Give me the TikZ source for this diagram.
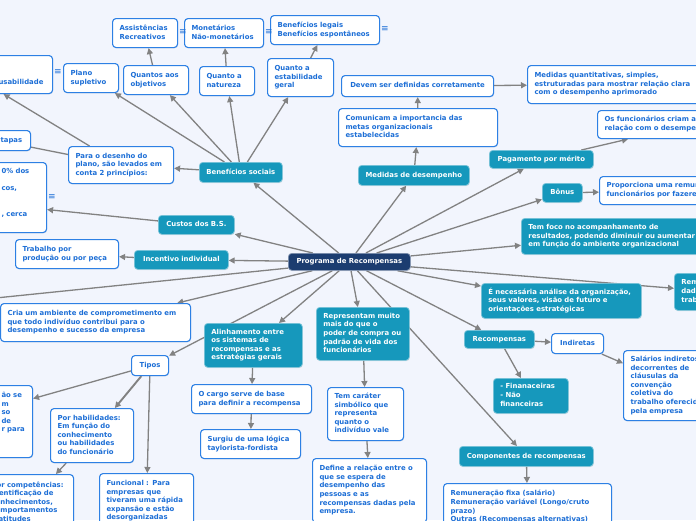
\documentclass[tikz,border=0pt]{standalone}
\usepackage{fontspec}
\setmainfont{DejaVu Sans}
\usetikzlibrary{arrows.meta,shadows}
\definecolor{bgc}{RGB}{242,245,253}
\definecolor{tealc}{RGB}{22,152,188}
\definecolor{navyc}{RGB}{28,61,112}
\definecolor{nblue}{RGB}{45,128,228}
\definecolor{tblue}{RGB}{28,110,214}
\definecolor{linec}{RGB}{130,130,130}
\pgfdeclarelayer{back}\pgfdeclarelayer{edges}\pgfsetlayers{back,edges,main}
% left-aligned box: style, name, x1, y1, x2, y2 (pixels, y down), text
\newcommand\mnode[7]{%
\pgfmathsetmacro\mw{(#5)-(#3)}%
\pgfmathsetmacro\mh{(#6)-(#4)}%
\pgfmathsetmacro\mt{(#5)-(#3)-14}%
\node[#1,anchor=north west,minimum width=\mw pt,minimum height=\mh pt,text width=\mt pt] (#2) at (#3pt,-#4pt) {\makebox[\linewidth][l]{\begin{tabular}{@{}l@{}}#7\end{tabular}}};}
\newcommand\cnode[7]{%
\pgfmathsetmacro\mw{(#5)-(#3)}%
\pgfmathsetmacro\mh{(#6)-(#4)}%
\pgfmathsetmacro\mt{(#5)-(#3)-14}%
\node[#1,anchor=north west,minimum width=\mw pt,minimum height=\mh pt,text width=\mt pt] (#2) at (#3pt,-#4pt) {\makebox[\linewidth][c]{\begin{tabular}{@{}c@{}}#7\end{tabular}}};}
\tikzset{
 base/.style={rounded corners=3.5pt, inner xsep=7pt, inner ysep=0pt,
   font=\fontsize{6.9}{8.6}\selectfont\bfseries,
   drop shadow={shadow xshift=0.5pt,shadow yshift=-0.8pt,opacity=0.18}},
 wb/.style={base, fill=white, draw=nblue, line width=1.1pt, text=tblue},
 tb/.style={base, fill=tealc, draw=tealc!55!white, line width=0.7pt, text=white},
 cb/.style={base, fill=navyc, draw=navyc!55!white, line width=0.7pt, text=white},
 conn/.style={draw=linec, line width=1.3pt, -{Triangle[length=6pt,width=6pt]}},
 note/.style={text=tblue, font=\fontsize{9}{9}\selectfont, inner sep=0pt}
}
\begin{document}
\begin{tikzpicture}
\useasboundingbox (0,0) rectangle (696pt,-520pt);
\begin{pgfonlayer}{back}
\fill[bgc] (0,0) rectangle (696pt,-520pt);
\end{pgfonlayer}
% central
\cnode{cb}{prog}{288}{253}{410}{270}{Programa de Recompensas}
% benefits branch
\mnode{wb}{assist}{112}{18}{177}{47}{Assistências\\Recreativos}
\mnode{wb}{monet}{184}{18}{263}{47}{Monetários\\Não-monetários}
\mnode{wb}{legais}{270}{15}{379}{44}{Benefícios legais\\Benefícios espontâneos}
\mnode{wb}{resp}{-9}{55}{52}{93}{\mbox{}\\\mbox{}\\usabilidade}
\mnode{wb}{plano}{63}{63}{118}{92}{Plano\\supletivo}
\mnode{wb}{objet}{123}{65}{188}{94}{Quantos aos\\objetivos}
\mnode{wb}{natur}{199}{66}{254}{95}{Quanto a\\natureza}
\mnode{wb}{estab}{267}{58}{333}{96}{Quanto a\\estabilidade\\geral}
\mnode{wb}{para}{68}{146}{173}{183}{Para o desenho do\\plano, são levados em\\conta 2 princípios:}
\mnode{wb}{etapas}{-7}{130}{30}{150}{tapas}
\cnode{tb}{bsoc}{199}{162}{282}{182}{Benefícios sociais}
\mnode{wb}{cost}{-6}{162}{46}{232}{0\% dos\\\mbox{}\\cos,\\\mbox{}\\\mbox{}\\, cerca\\\mbox{}}
\cnode{tb}{custos}{158}{215}{234}{234}{Custos dos B.S.}
\mnode{wb}{trab}{15}{239}{118}{268}{Trabalho por\\produção ou por peça}
\cnode{tb}{incent}{134}{250}{228}{269}{Incentivo individual}
\mnode{wb}{cria}{0}{303}{190}{341}{Cria um ambiente de comprometimento em\\que todo indivíduo contribui para o\\desempenho e sucesso da empresa}
% performance branch
\cnode{tb}{medd}{358}{165}{469}{185}{Medidas de desempenho}
\mnode{wb}{comun}{338}{108}{497}{146}{Comunicam a importancia das\\metas organizacionais\\estabelecidas}
\cnode{wb}{devem}{341}{75}{493}{96}{Devem ser definidas corretamente}
\mnode{wb}{mquant}{527}{65}{705}{103}{Medidas quantitativas, simples,\\estruturadas para mostrar relação clara\\com o desempenho aprimorado}
\mnode{wb}{func}{597}{110}{740}{138}{Os funcionários criam a\\relação com o desempenho}
\cnode{tb}{pag}{489}{150}{593}{168}{Pagamento por mérito}
\cnode{tb}{bonus}{542}{183}{582}{202}{Bônus}
\mnode{wb}{prop}{599}{176}{760}{204}{Proporciona uma remuneração\\funcionários por fazerem}
\mnode{tb}{foco}{521}{218}{705}{254}{Tem foco no acompanhamento de\\resultados, podendo diminuir ou aumentar\\em função do ambiente organizacional}
\mnode{tb}{rem}{674}{273}{760}{310}{Remuneração\\dada\\trabalho}
\mnode{tb}{neces}{481}{283}{641}{318}{É necessária análise da organização,\\seus valores, visão de futuro e\\orientações estratégicas}
\cnode{tb}{recomp}{464}{330}{534}{348}{Recompensas}
\cnode{wb}{indir}{551}{333}{603}{353}{Indiretas}
\mnode{wb}{salar}{623}{350}{725}{420}{Salários indiretos\\decorrentes de\\cláusulas da\\convenção\\coletiva do\\trabalho oferecidos\\pela empresa}
\mnode{tb}{finan}{493}{378}{568}{413}{- Finanaceiras\\- Não\\financeiras}
\cnode{tb}{compo}{459}{446}{593}{466}{Componentes de recompensas}
\mnode{wb}{remfix}{443}{483}{611}{530}{Remuneração fixa (salário)\\Remuneração variável (Longo/cruto\\prazo)\\Outras (Recompensas alternativas)}
% lower branches
\mnode{tb}{repr}{316}{307}{409}{360}{Representam muito\\mais do que o\\poder de compra ou\\padrão de vida dos\\funcionários}
\mnode{tb}{alinh}{204}{323}{302}{367}{Alinhamento entre\\os sistemas de\\recompensas e as\\estratégias gerais}
\mnode{wb}{cargo}{191}{384}{311}{413}{O cargo serve de base\\para definir a recompensa}
\mnode{wb}{surg}{200}{429}{300}{458}{Surgiu de uma lógica\\taylorista-fordista}
\mnode{wb}{carat}{327}{387}{403}{440}{Tem caráter\\simbólico que\\representa\\quanto o\\indivíduo vale}
\mnode{wb}{define}{312}{458}{426}{522}{Define a relação entre o\\que se espera de\\desempenho das\\pessoas e as\\recompensas dadas pela\\empresa.}
\cnode{wb}{tipos}{131}{355}{168}{375}{Tipos}
\mnode{wb}{leftt}{-6}{385}{32}{457}{ão se\\m\\so\\de\\r para\\\mbox{}\\\mbox{}}
\mnode{wb}{hab}{50}{408}{133}{462}{Por habilidades:\\Em função do\\conhecimento\\ou habilidades\\do funcionário}
\mnode{wb}{comp}{-16}{474}{73}{530}{Por competências:\\Identificação de\\conhecimentos,\\comportamentos\\e atitudes}
\mnode{wb}{funcn}{99}{473}{193}{528}{Funcional : Para\\empresas que\\tiveram uma rápida\\expansão e estão\\desorganizadas}
% note icons
\node[note] (n1) at (183pt,-32pt) {≡};
\node[note] (n2) at (269pt,-32pt) {≡};
\node[note] (n3) at (385pt,-29pt) {≡};
\node[note] (n4) at (58pt,-72pt) {≡};
\node[note] (n5) at (52pt,-197pt) {≡};
% connectors
\begin{pgfonlayer}{edges}
\begin{scope}
\clip (0,0) rectangle (696pt,-520pt);
\coordinate (offl) at (-200pt,-318pt);
\foreach \t in {bsoc,medd,pag,bonus,foco,rem,neces,recomp,compo,repr,alinh,tipos,cria,offl,incent,custos}
  \draw[conn] (prog) -- (\t);
\foreach \t in {plano,objet,natur,estab,para}
  \draw[conn] (bsoc) -- (\t);
\draw[conn] (para) -- ([xshift=-18.5pt]resp.south);
\draw[conn] (para) -- ([xshift=-14pt]etapas.center);
\draw[conn] (objet) -- (assist);
\draw[conn] (natur) -- (monet);
\draw[conn] (estab) -- (legais);
\draw[conn] (custos) -- ([yshift=-12pt]cost.east);
\draw[conn] (incent) -- (trab);
\draw[conn] (medd) -- (comun);
\draw[conn] (comun) -- (devem);
\draw[conn] (devem) -- (mquant);
\draw[conn] (pag) -- ([xshift=31pt]func.south west);
\draw[conn] (bonus) -- (prop);
\draw[conn] (recomp) -- (indir);
\draw[conn] (recomp) -- (finan);
\draw[conn] (indir) -- (salar);
\draw[conn] (compo) -- (remfix);
\draw[conn] (repr) -- (carat);
\draw[conn] (carat) -- (define);
\draw[conn] (alinh) -- (cargo);
\draw[conn] (cargo) -- (surg);
\draw[conn] (tipos) -- ([yshift=23pt]leftt.east);
\draw[conn, line width=1.9pt] (tipos) -- (hab);
\draw[conn] (tipos) -- (funcn);
\draw[conn] (hab) -- (comp);
\end{scope}
\end{pgfonlayer}
\end{tikzpicture}
\end{document}
